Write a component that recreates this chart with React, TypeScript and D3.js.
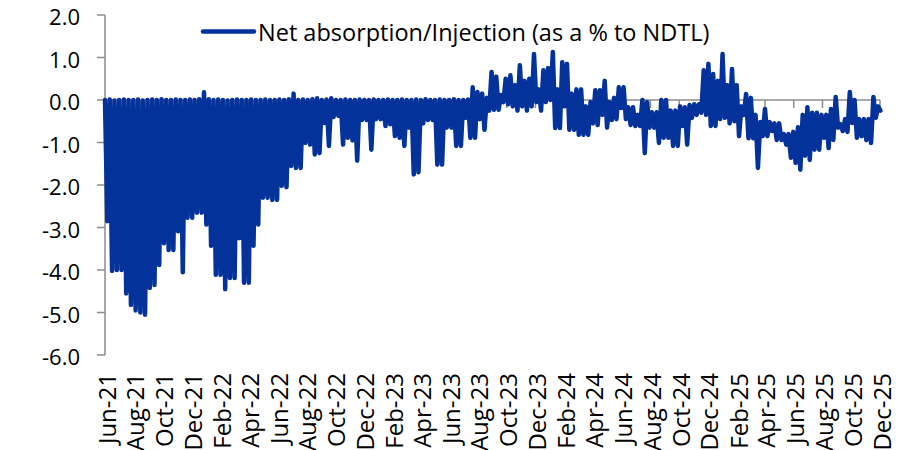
import React from "react";
import * as d3 from "d3";

// one high and one low reading per 10-day block, from 1 Jun 2021
const startDay = "2021-06-01";
const blockDays = 10;

const highs = [
  0.0, 0.01, -0.01, 0.0, 0.01, 0.0, 0.0, 0.01, -0.01, 0.0,
  0.01, 0.0, 0.02, 0.0, 0.0, 0.01, 0.0, 0.0, 0.01, 0.0,
  0.02, 0.18, 0.02, 0.0, 0.01, 0.0, -0.01, 0.0, 0.01, 0.0,
  0.0, 0.01, 0.0, 0.0, 0.01, 0.0, 0.0, 0.01, 0.0, 0.02,
  0.15, 0.0, 0.01, 0.0, 0.02, 0.04, 0.0, 0.01, 0.04, 0.0,
  0.0, 0.01, 0.0, 0.0, 0.01, 0.0, 0.0, 0.01, 0.0, 0.0,
  0.01, 0.0, 0.0, 0.01, 0.0, 0.0, 0.01, 0.0, 0.02, 0.0,
  0.0, 0.01, 0.0, 0.0, 0.02, 0.0, 0.0, 0.01, 0.3, 0.19,
  0.15, 0.05, 0.66, 0.55, 0.12, 0.5, 0.58, 0.35, 0.82, 0.45,
  0.5, 1.08, 0.25, 0.7, 0.75, 1.13, 0.25, 0.89, 0.85, 0.15,
  0.25, 0.25, -0.15, -0.05, 0.23, 0.23, 0.45, -0.05, 0.05, 0.3,
  0.3, -0.17, -0.17, -0.35, 0.0, -0.05, -0.29, -0.29, 0.0, 0.0,
  -0.25, -0.25, -0.15, -0.17, -0.12, -0.1, -0.1, 0.7, 0.85, 0.61,
  0.45, 1.08, 0.35, 0.73, 0.35, -0.15, 0.14, 0.05, -0.35, -0.52,
  -0.21, -0.52, -0.55, -0.55, -0.8, -0.8, -0.75, -0.64, -0.35, -0.17,
  -0.3, -0.3, -0.35, -0.35, -0.21, 0.07, -0.57, -0.45, 0.19, 0.0,
  -0.45, -0.45, -0.45, 0.07, -0.15,
];

const lows = [
  -2.85, -4.02, -4.0, -4.0, -4.55, -4.82, -4.95, -5.0, -5.05, -4.42,
  -4.35, -3.88, -3.37, -3.53, -3.53, -3.09, -4.05, -2.77, -2.77, -2.65,
  -2.65, -2.93, -3.43, -4.11, -4.11, -4.45, -4.19, -4.19, -3.25, -4.3,
  -4.3, -3.43, -2.93, -2.3, -2.3, -2.35, -2.35, -2.02, -2.05, -1.55,
  -1.6, -1.6, -1.01, -1.05, -1.28, -1.25, -0.54, -1.08, -0.4, -0.37,
  -1.05, -0.89, -0.95, -1.43, -0.47, -0.47, -1.17, -0.45, -0.45, -0.61,
  -0.57, -0.85, -0.89, -1.08, -0.65, -1.75, -1.7, -0.55, -0.47, -0.47,
  -1.52, -1.52, -0.65, -0.65, -1.08, -1.08, -0.42, -0.89, -0.89, -0.45,
  -0.7, -0.25, -0.23, -0.23, -0.05, -0.1, -0.15, -0.25, -0.15, -0.25,
  -0.15, -0.05, -0.25, -0.05, 0.0, -0.66, -0.66, -0.15, -0.7, -0.7,
  -0.82, -0.82, -0.82, -0.55, -0.59, -0.35, -0.65, -0.47, -0.45, -0.19,
  -0.45, -0.59, -0.61, -0.61, -1.25, -0.65, -0.65, -1.01, -0.89, -0.89,
  -1.08, -1.08, -0.61, -1.05, -0.42, -0.35, -0.3, -0.35, -0.61, -0.61,
  -0.45, -0.42, -0.55, -0.5, -0.85, -0.35, -0.9, -0.9, -1.6, -0.85,
  -0.85, -0.73, -0.94, -0.94, -1.05, -1.36, -1.48, -1.64, -1.31, -1.41,
  -1.17, -1.17, -0.89, -1.13, -0.94, -0.65, -0.73, -0.75, -0.54, -0.89,
  -0.85, -0.94, -1.01, -0.42, -0.25,
];

const monthLabels = [
  "Jun-21", "Aug-21", "Oct-21", "Dec-21", "Feb-22", "Apr-22", "Jun-22",
  "Aug-22", "Oct-22", "Dec-22", "Feb-23", "Apr-23", "Jun-23", "Aug-23",
  "Oct-23", "Dec-23", "Feb-24", "Apr-24", "Jun-24", "Aug-24", "Oct-24",
  "Dec-24", "Feb-25", "Apr-25", "Jun-25", "Aug-25", "Oct-25", "Dec-25",
];

const yTicks = [2, 1, 0, -1, -2, -3, -4, -5, -6];
const seriesName = "Net absorption/Injection (as a % to NDTL)";

const width = 902;
const height = 450;
const blue = "#03339A";
const axisGrey = "#8C8C8C";
const font = "'Open Sans', sans-serif";

const parseMonth = d3.timeParse("%b-%y");
const parseDay = d3.timeParse("%Y-%m-%d");

export default function App() {
  const start = parseDay(startDay) as Date;
  const tickDates = monthLabels.map((m) => parseMonth(m) as Date);

  const x = d3
    .scaleTime()
    .domain([tickDates[0], tickDates[tickDates.length - 1]])
    .range([105, 880]);
  const y = d3.scaleLinear().domain([-6, 2]).range([355, 15]);

  const points: { date: Date; value: number }[] = [];
  highs.forEach((h, i) => {
    points.push({ date: d3.timeDay.offset(start, i * blockDays), value: h });
    points.push({
      date: d3.timeDay.offset(start, i * blockDays + blockDays / 2),
      value: lows[i],
    });
  });

  const line = d3
    .line<{ date: Date; value: number }>()
    .x((d) => x(d.date))
    .y((d) => y(d.value));

  const x0 = x.range()[0];
  const y0 = y(0);

  return (
    <svg
      width={width}
      height={height}
      style={{ position: "absolute", left: 0, top: 0, background: "#fff" }}
      fontFamily={font}
    >
      {/* y axis */}
      <line x1={x0} x2={x0} y1={y(2)} y2={y(-6)} stroke={axisGrey} strokeWidth={1.5} />
      {yTicks.map((t) => (
        <g key={t}>
          <line x1={x0 - 8} x2={x0} y1={y(t)} y2={y(t)} stroke={axisGrey} strokeWidth={1.5} />
          <text
            x={80}
            y={y(t) + 1}
            textAnchor="end"
            dominantBaseline="central"
            fontSize={22}
            fill="#000"
          >
            {t.toFixed(1)}
          </text>
        </g>
      ))}

      {/* x axis at zero */}
      <line x1={x0} x2={x.range()[1]} y1={y0} y2={y0} stroke={axisGrey} strokeWidth={1.5} />
      {tickDates.map((d, i) => (
        <g key={monthLabels[i]}>
          <line x1={x(d)} x2={x(d)} y1={y0} y2={y0 + 8} stroke={axisGrey} strokeWidth={1.5} />
          <text
            transform={`translate(${x(d) + 1},373) rotate(-90)`}
            textAnchor="end"
            dominantBaseline="central"
            fontSize={24}
            fill="#000"
          >
            {monthLabels[i]}
          </text>
        </g>
      ))}

      <path
        d={line(points) ?? ""}
        fill="none"
        stroke={blue}
        strokeWidth={4.5}
        strokeLinejoin="round"
        strokeLinecap="round"
      />

      {/* legend */}
      <line x1={203} x2={254} y1={31.5} y2={31.5} stroke={blue} strokeWidth={4.5} strokeLinecap="round" />
      <text x={258} y={32} dominantBaseline="central" fontSize={23.5} fill="#000">
        {seriesName}
      </text>
    </svg>
  );
}
